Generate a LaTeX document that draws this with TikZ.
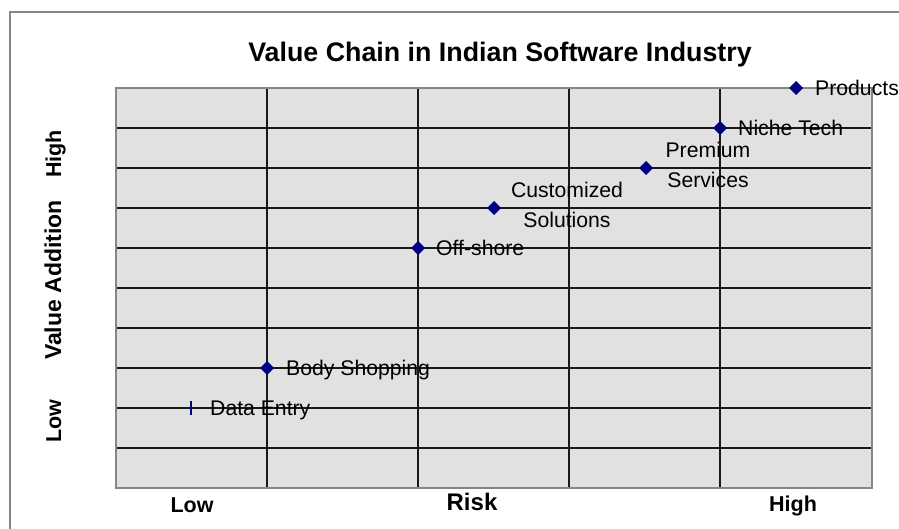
\documentclass[tikz,border=0pt]{standalone}
\usepackage{fontspec}
\setmainfont{Liberation Sans}
\definecolor{plotfill}{HTML}{E1E1E1}
\definecolor{bordergray}{HTML}{868686}
\definecolor{markblue}{HTML}{000080}
\begin{document}
\begin{tikzpicture}[x=1pt,y=-1pt,
  gridline/.style={draw=black!90,line width=1.1pt},
  datamark/.style={fill=markblue,draw=none},
  datalabel/.style={font=\fontsize{21.2}{30}\selectfont,inner sep=0pt,anchor=base west},
  twoline/.style={font=\fontsize{21.2}{30}\selectfont,inner sep=0pt,align=center,anchor=base},
  axislabel/.style={font=\fontsize{21.5}{24}\selectfont\bfseries,inner sep=0pt,anchor=base},
]
\useasboundingbox (0,0) rectangle (899,529);
% outer frame (only top and left edges visible)
\draw[bordergray,line width=1.3pt] (10,529) -- (10,12) -- (899,12);
% plot area
\fill[plotfill] (116,88) rectangle (872,488);
\foreach \yy in {128,168,...,448} {\draw[gridline] (116,\yy) -- (872,\yy);}
\foreach \xx in {267,418,569,720} {\draw[gridline] (\xx,88) -- (\xx,488);}
\draw[bordergray,line width=2pt] (116,88) rectangle (872,488);
% title
\node[font=\fontsize{26.8}{30}\selectfont\bfseries,inner sep=0pt,anchor=base] (title) at (500,62) {Value Chain in Indian Software Industry};
% axis labels
\node[axislabel,rotate=90] (ylow) at (61,421) {Low};
\node[axislabel,rotate=90,font=\fontsize{23}{24}\selectfont\bfseries] (yval) at (61,280) {Value Addition};
\node[axislabel,rotate=90] (yhigh) at (61,154) {High};
\node[axislabel] (xlow) at (192,512) {Low};
\node[axislabel,font=\fontsize{24}{26}\selectfont\bfseries] (xrisk) at (472,510) {Risk};
\node[axislabel] (xhigh) at (793,511) {High};
% data points
\fill[markblue] (190,401) rectangle (192.2,415);
\coordinate (pde) at (191,408);
\foreach \nm/\px/\py in {pbs/267/368, pos/418/248, pcs/494/208, pps/646/168, pnt/720/128, ppr/796/88} {
  \fill[datamark] (\px-7,\py) -- (\px,\py-7) -- (\px+7,\py) -- (\px,\py+7) -- cycle;
  \coordinate (\nm) at (\px,\py);
}
% labels
\node[datalabel] (lde) at (210,415.3) {Data Entry};
\node[datalabel] (lbs) at (286,375.3) {Body Shopping};
\node[datalabel] (los) at (436,255.3) {Off-shore};
\node[twoline] (lcs) at (567,227.3) {Customized\\Solutions};
\node[twoline] (lps) at (708,187.3) {Premium\\Services};
\node[datalabel] (lnt) at (738,135.3) {Niche Tech};
\node[datalabel] (lpr) at (815,95.3) {Products};
\end{tikzpicture}
\end{document}
